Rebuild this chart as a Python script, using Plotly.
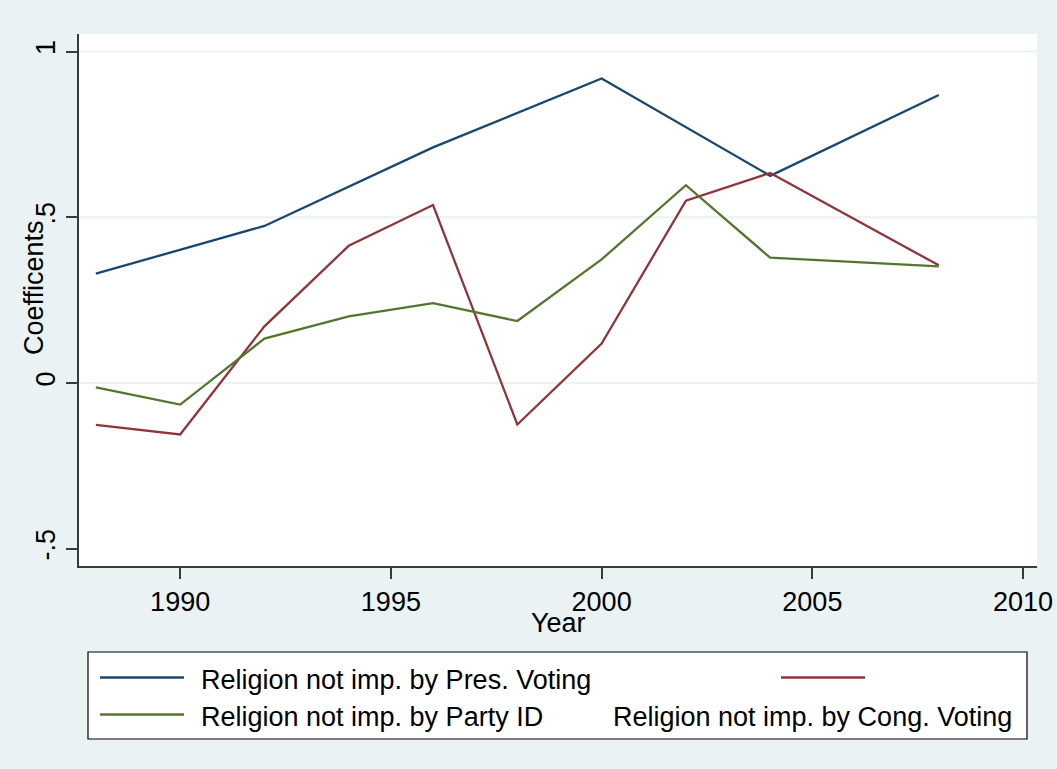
import plotly.graph_objects as go

# Survey years and estimated coefficients for each model
years = [1988, 1990, 1992, 1994, 1996, 1998, 2000, 2002, 2004, 2008]
pres_voting = [0.330, None, 0.474, None, 0.711, None, 0.919, None, 0.625, 0.869]
cong_voting = [-0.126, -0.155, 0.171, 0.414, 0.537, -0.125, 0.119, 0.550, 0.634, 0.355]
party_id = [-0.013, -0.065, 0.134, 0.201, 0.241, 0.187, 0.373, 0.597, 0.378, 0.352]

x_ticks = [1990, 1995, 2000, 2005, 2010]
y_ticks = [-0.5, 0, 0.5, 1]
y_tick_text = ["-.5", "0", ".5", "1"]
grid_vals = [0, 0.5, 1]

NAVY = "#1a476f"
MAROON = "#90353b"
FOREST = "#55752f"
BG = "#eaf2f3"
AXIS = "#3a3a3a"
FONT = "Liberation Sans, Arial, sans-serif"
FS = 27

W, H = 1057, 769
L, R, T, B = 79, 20, 34, 203
PW, PH = W - L - R, H - T - B


def px(xp):
    return (xp - L) / PW


def py(yp):
    return (H - B - yp) / PH


fig = go.Figure()
series = [
    ("Religion not imp. by Pres. Voting", pres_voting, NAVY),
    ("Religion not imp. by Cong. Voting", cong_voting, MAROON),
    ("Religion not imp. by Party ID", party_id, FOREST),
]
for name, vals, col in series:
    fig.add_trace(go.Scatter(
        x=years, y=vals, mode="lines", name=name, connectgaps=True,
        line=dict(color=col, width=2.3), showlegend=False,
    ))

for g in grid_vals:
    fig.add_hline(y=g, line=dict(color=BG, width=2), layer="below")

fig.update_layout(
    width=W, height=H,
    margin=dict(l=L, r=R, t=T, b=B, autoexpand=False),
    paper_bgcolor=BG, plot_bgcolor="white",
    font=dict(family=FONT, size=FS, color="black"),
    showlegend=False,
)
fig.update_xaxes(
    range=[1987.6, 2010.33], tickvals=x_ticks, showgrid=False, zeroline=False,
    showline=True, linecolor=AXIS, linewidth=1.5, automargin=False,
    ticks="outside", ticklen=11, tickwidth=1.5, tickcolor=AXIS,
    tickfont=dict(size=FS),
)
fig.update_yaxes(
    range=[-0.552, 1.053], tickvals=y_ticks, ticktext=y_tick_text,
    showgrid=False, zeroline=False, automargin=False,
    showline=True, linecolor=AXIS, linewidth=1.5,
    ticks="outside", ticklen=11, tickwidth=1.5, tickcolor=AXIS,
    tickangle=-90, tickfont=dict(size=FS),
)

# Axis titles
fig.add_annotation(text="Coefficents", xref="paper", yref="paper",
                   x=px(34), y=py(288), textangle=-90, showarrow=False,
                   xanchor="center", yanchor="middle", font=dict(size=FS))
fig.add_annotation(text="Year", xref="paper", yref="paper",
                   x=px(558), y=py(623), showarrow=False,
                   xanchor="center", yanchor="middle", font=dict(size=FS))

# Legend box with keys and labels
fig.add_shape(type="rect", xref="paper", yref="paper",
              x0=px(88), x1=px(1027), y0=py(739), y1=py(652),
              line=dict(color="black", width=1.2), fillcolor="white")
keys = [
    (100, 184, 677.5, NAVY),
    (781, 865, 677.5, MAROON),
    (100, 184, 714.5, FOREST),
]
for x0, x1, yk, col in keys:
    fig.add_shape(type="line", xref="paper", yref="paper",
                  x0=px(x0), x1=px(x1), y0=py(yk), y1=py(yk),
                  line=dict(color=col, width=2.5))
labels = [
    (199, 680, series[0][0]),
    (199, 716.5, series[2][0]),
    (611, 716.5, series[1][0]),
]
for xl, yl, txt in labels:
    fig.add_annotation(text=txt, xref="paper", yref="paper",
                       x=px(xl), y=py(yl), showarrow=False,
                       xanchor="left", yanchor="middle", font=dict(size=FS))

fig.write_html("out.html")
